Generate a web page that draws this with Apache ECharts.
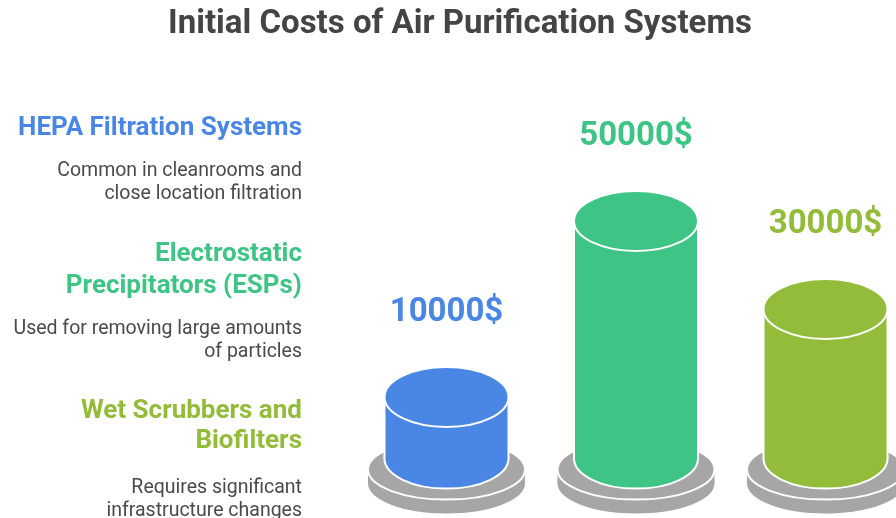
<!DOCTYPE html>
<html>
<head>
<meta charset="utf-8">
<script src="https://cdn.jsdelivr.net/npm/echarts@6/dist/echarts.min.js"></script>
<style>
html,body{margin:0;padding:0;background:#fff;}
#chart{width:896px;height:518px;}
</style>
</head>
<body>
<div id="chart"></div>
<script>
const title = 'Initial Costs of Air Purification Systems';
const categories = ['HEPA Filtration Systems', 'Electrostatic\nPrecipitators (ESPs)', 'Wet Scrubbers and\nBiofilters'];
const descriptions = ['Common in cleanrooms and\nclose location filtration', 'Used for removing large amounts\nof particles', 'Requires significant\ninfrastructure changes'];
const costs = [10000, 50000, 30000];
const colors = ['#4A86E4', '#3EC484', '#93BC3A'];

const headingTops = [113, 238.5, 396.5];
const headingLineHeights = [31, 32, 30];
const descTops = [159.5, 317.5, 476.5];
const FONT = 'Roboto, "Noto Sans", sans-serif';

const chart = echarts.init(document.getElementById('chart'));

const graphics = [];
categories.forEach((c, i) => {
  graphics.push({
    type: 'text', right: 896 - 302, top: headingTops[i],
    style: { text: c, fill: colors[i], font: 'bold 26px ' + FONT, textAlign: 'right', lineHeight: headingLineHeights[i] }
  });
  graphics.push({
    type: 'text', right: 896 - 302, top: descTops[i],
    style: { text: descriptions[i], fill: '#4a4a4a', font: '19.5px ' + FONT, textAlign: 'right', lineHeight: 23 }
  });
});

function renderItem(params, api) {
  const i = api.value(0);
  const v = api.value(1);
  const top = api.coord([i, v]);
  const base = api.coord([i, -4000]);
  const cx = top[0];
  const ty = top[1];
  const by = base[1];
  const rx = 62, ry = 30;
  const drx = 78.5, dry = 30, thick = 14;
  const dTop = by + 11;
  const col = colors[i];
  const gray = '#A6A6A6';
  const children = [
    { type: 'ellipse', shape: { cx: cx, cy: dTop + thick, rx: drx, ry: dry }, style: { fill: gray } },
    { type: 'rect', shape: { x: cx - drx, y: dTop, width: drx * 2, height: thick }, style: { fill: gray } },
    { type: 'ellipse', shape: { cx: cx, cy: dTop, rx: drx, ry: dry }, style: { fill: gray, stroke: '#fff', lineWidth: 2 } },
    { type: 'ellipse', shape: { cx: cx, cy: by, rx: rx, ry: ry }, style: { fill: col, stroke: '#fff', lineWidth: 2 } },
    { type: 'rect', shape: { x: cx - rx, y: ty, width: rx * 2, height: by - ty }, style: { fill: col } },
    { type: 'line', shape: { x1: cx - rx, y1: ty, x2: cx - rx, y2: by }, style: { stroke: '#fff', lineWidth: 2 } },
    { type: 'line', shape: { x1: cx + rx, y1: ty, x2: cx + rx, y2: by }, style: { stroke: '#fff', lineWidth: 2 } },
    { type: 'ellipse', shape: { cx: cx, cy: ty, rx: rx, ry: ry }, style: { fill: col, stroke: '#fff', lineWidth: 2 } },
    { type: 'text', x: cx, y: ty - ry - 54, style: { text: v + '$', fill: col, font: 'bold 33px ' + FONT, textAlign: 'center', textVerticalAlign: 'middle' } }
  ];
  return { type: 'group', children: children };
}

chart.setOption({
  backgroundColor: '#fff',
  animation: false,
  title: {
    text: title, left: 455, top: 3, textAlign: 'center',
    textStyle: { fontFamily: FONT, fontWeight: 'bold', fontSize: 33, color: '#444444' }
  },
  grid: { left: 446.5, width: 379, top: 221, height: 237.6 },
  xAxis: { type: 'category', data: categories, show: false, boundaryGap: false },
  yAxis: { type: 'value', min: -4000, max: 50000, show: false },
  graphic: graphics,
  series: [{
    type: 'custom',
    renderItem: renderItem,
    data: costs.map((v, i) => [i, v]),
    encode: { x: 0, y: 1 }
  }]
});
</script>
</body>
</html>
